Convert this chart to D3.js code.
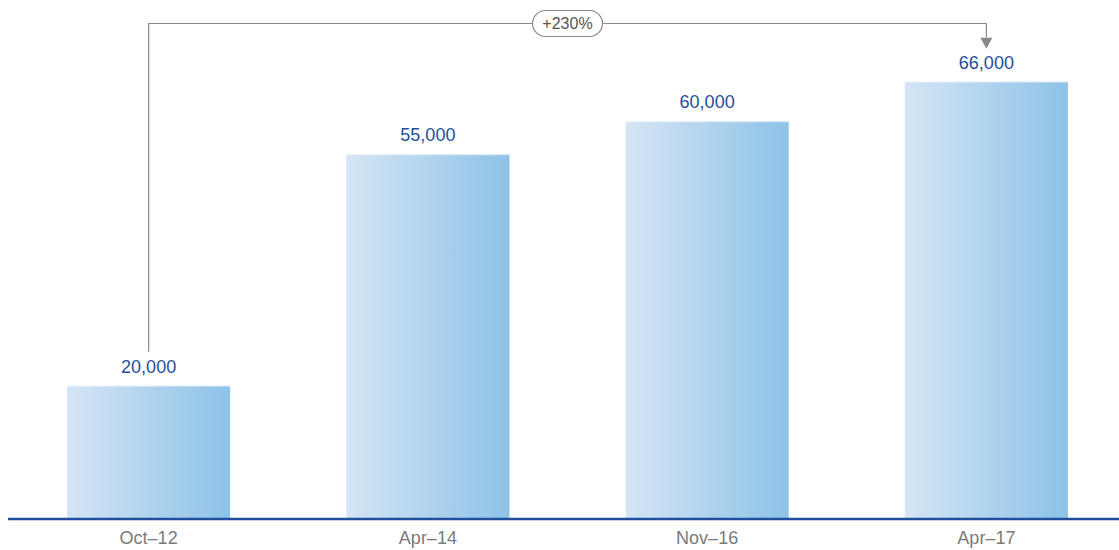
<!DOCTYPE html>
<html>
<head>
<meta charset="utf-8">
<script src="https://cdn.jsdelivr.net/npm/d3@7"></script>
<style>
  html, body { margin: 0; padding: 0; background: #fff; }
  svg { display: block; font-family: "Liberation Sans", Arial, Helvetica, sans-serif; }
</style>
</head>
<body>
<svg id="chart" width="1119" height="550"></svg>
<script>
// Chart data
const categories = ["Oct–12", "Apr–14", "Nov–16", "Apr–17"];
const values = [20000, 55000, 60000, 66000];

const width = 1119, height = 550;
const baseY = 518;

const svg = d3.select("#chart");

const x = d3.scaleBand()
  .domain(categories)
  .range([9, 1126])
  .paddingInner(0.416)
  .paddingOuter(0.208);

const y = d3.scaleLinear()
  .domain([0, 70000])
  .range([baseY, baseY - 0.00661 * 70000]);

// Horizontal gradient for the bars
const defs = svg.append("defs");
const grad = defs.append("linearGradient")
  .attr("id", "barGrad")
  .attr("x1", "0%").attr("x2", "100%").attr("y1", "0%").attr("y2", "0%");
grad.append("stop").attr("offset", "0%").attr("stop-color", "#d5e5f5");
grad.append("stop").attr("offset", "100%").attr("stop-color", "#8dc2e7");

const data = categories.map((c, i) => ({ cat: c, val: values[i] }));

// Bars
svg.append("g").selectAll("rect")
  .data(data)
  .join("rect")
  .attr("x", d => x(d.cat))
  .attr("y", d => y(d.val))
  .attr("width", x.bandwidth())
  .attr("height", d => y(0) - y(d.val))
  .attr("fill", "url(#barGrad)");

// Light top edge of each bar
svg.append("g").selectAll("line")
  .data(data)
  .join("line")
  .attr("x1", d => x(d.cat))
  .attr("x2", d => x(d.cat) + x.bandwidth())
  .attr("y1", d => y(d.val) + 0.5)
  .attr("y2", d => y(d.val) + 0.5)
  .attr("stroke", "#ffffff")
  .attr("stroke-opacity", 0.45);

// Value labels
svg.append("g").selectAll("text")
  .data(data)
  .join("text")
  .attr("x", d => x(d.cat) + x.bandwidth() / 2)
  .attr("y", d => y(d.val) - 13)
  .attr("text-anchor", "middle")
  .attr("font-size", 18)
  .attr("fill", "#1f4f9c")
  .text(d => d3.format(",")(d.val));

// Baseline
svg.append("line")
  .attr("x1", 8).attr("x2", width)
  .attr("y1", baseY + 1).attr("y2", baseY + 1)
  .attr("stroke", "#1f4f9c")
  .attr("stroke-width", 2.5);

// Category axis
const xAxis = svg.append("g")
  .attr("transform", `translate(0,${baseY})`)
  .call(d3.axisBottom(x).tickSize(0).tickPadding(13));
xAxis.select(".domain").remove();
xAxis.selectAll("text")
  .attr("font-size", 18)
  .attr("fill", "#7a7a7a")
  .attr("font-family", "\"Liberation Sans\", Arial, sans-serif");

// Growth bracket from first to last bar
const first = data[0], last = data[data.length - 1];
const x0 = x(first.cat) + x.bandwidth() / 2;
const x1 = x(last.cat) + x.bandwidth() / 2;
const topY = 23.5;
const growth = Math.round((last.val - first.val) / first.val * 100);

const bracket = svg.append("g");
bracket.append("path")
  .attr("d", `M${x0},${y(first.val) - 34} V${topY} H${x1} V${y(last.val) - 44}`)
  .attr("fill", "none")
  .attr("stroke", "#8a8a8a")
  .attr("stroke-width", 1.2);
const tipY = y(last.val) - 33;
bracket.append("path")
  .attr("d", `M${x1 - 6},${tipY - 11} L${x1 + 6},${tipY - 11} L${x1},${tipY} Z`)
  .attr("fill", "#8a8a8a");

const mid = (x0 + x1) / 2;
bracket.append("rect")
  .attr("x", mid - 35).attr("y", topY - 13)
  .attr("width", 70).attr("height", 26)
  .attr("rx", 13).attr("ry", 13)
  .attr("fill", "#fff")
  .attr("stroke", "#8a8a8a")
  .attr("stroke-width", 1.2);
bracket.append("text")
  .attr("x", mid).attr("y", topY + 5.5)
  .attr("text-anchor", "middle")
  .attr("font-size", 16)
  .attr("fill", "#555")
  .text(`+${growth}%`);
</script>
</body>
</html>
